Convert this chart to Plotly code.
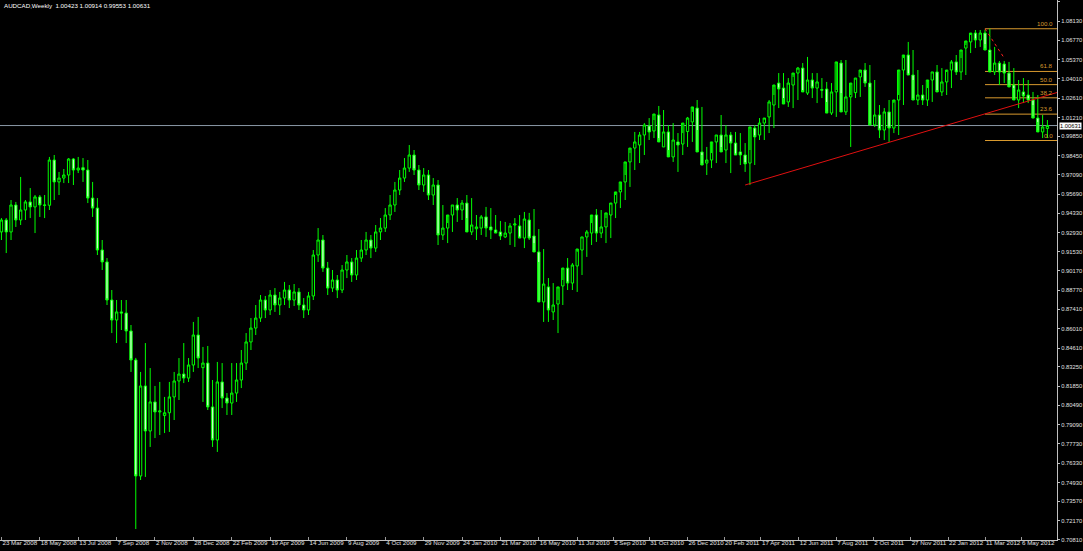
import plotly.graph_objects as go

# ---------------- data (AUDCAD weekly) ----------------
open_ = [0.9297,0.9383,0.9297,0.9491,0.9383,0.9455,0.9513,0.9477,0.9549,0.9491,
0.9489,0.9815,0.9657,0.9685,0.9707,0.9822,0.9743,0.9760,0.9743,0.9541,
0.9469,0.9167,0.9081,0.8807,0.8663,0.8721,0.8713,0.8584,0.8375,0.7540,
0.8188,0.7864,0.8073,0.8001,0.7975,0.7995,0.8109,0.8224,0.8274,0.8245,
0.8339,0.8555,0.8320,0.8353,0.8037,0.7799,0.8217,0.8101,0.8065,0.8137,
0.8231,0.8353,0.8505,0.8605,0.8677,0.8807,0.8735,0.8843,0.8771,0.8821,
0.8879,0.8807,0.8865,0.8771,0.8735,0.8836,0.9131,0.9239,0.9037,0.8893,
0.8951,0.8879,0.9023,0.9081,0.8987,0.9109,0.9167,0.9239,0.9181,0.9297,
0.9325,0.9419,0.9491,0.9599,0.9685,0.9757,0.9851,0.9743,0.9635,
0.9707,0.9563,0.9635,0.9275,0.9325,0.9419,0.9491,0.9455,0.9505,0.9297,0.9320,
0.9325,0.9405,0.9333,0.9311,0.9297,0.9261,0.9289,0.9347,0.9340,0.9253,
0.9383,0.9268,0.9153,0.8793,0.8901,0.8721,0.8778,0.8908,0.9037,0.8929,
0.9052,0.9167,0.9261,0.9289,0.9419,0.9289,0.9333,0.9419,0.9505,0.9585,
0.9657,0.9801,0.9901,0.9923,0.9995,1.0060,1.0024,1.0139,0.9909,1.0017,
0.9837,0.9945,0.9930,1.0020,1.0089,1.0189,0.9873,0.9793,0.9815,0.9945,
0.9995,0.9887,0.9995,0.9937,0.9873,0.9851,0.9793,1.0045,0.9995,1.0081,
1.0125,1.0211,1.0369,1.0333,1.0233,1.0355,1.0441,1.0477,1.0297,1.0391,
1.0333,1.0322,1.0326,1.0153,1.0305,1.0513,1.0161,1.0269,1.0300,1.0413,
1.0463,1.0369,1.0067,1.0139,1.0031,1.0161,1.0045,1.0247,1.0463,1.0571,
1.0427,1.0247,1.0283,1.0247,1.0391,1.0449,1.0305,1.0377,1.0463,1.0521,
1.0449,1.0621,1.0665,1.0729,1.0679,1.0729,1.0607,1.0449,1.0513,1.0506,
1.0441,1.0355,1.0247,1.0305,1.0283,1.0247,1.0117,1.0017,1.00423]

high = [0.9397,0.9397,0.9527,0.9513,0.9693,0.9527,0.9613,0.9563,0.9563,0.9563,
0.9837,0.9851,0.9729,0.9750,0.9829,0.9829,0.9837,0.9829,0.9815,0.9657,
0.9541,0.9239,0.9109,0.8879,0.8807,0.8807,0.8807,0.8627,0.8390,0.8289,
0.8497,0.8317,0.8188,0.8217,0.8109,0.8217,0.8289,0.8389,0.8497,0.8389,
0.8649,0.8685,0.8469,0.8476,0.8231,0.8361,0.8353,0.8137,0.8353,0.8353,
0.8447,0.8569,0.8677,0.8771,0.8843,0.8836,0.8879,0.8893,0.8865,0.8937,
0.8915,0.8922,0.8893,0.8821,0.8865,0.9167,0.9325,0.9275,0.9081,0.9023,
0.8987,0.9059,0.9131,0.9109,0.9167,0.9239,0.9297,0.9275,0.9347,0.9397,
0.9469,0.9563,0.9657,0.9743,0.9829,0.9923,0.9887,0.9779,0.9757,
0.9743,0.9685,0.9671,0.9491,0.9361,0.9491,0.9541,0.9527,0.9563,0.9541,0.9419,0.9419,
0.9477,0.9469,0.9419,0.9376,0.9369,0.9361,0.9397,0.9419,0.9441,0.9434,
0.9462,0.9318,0.9174,0.8965,0.8929,0.8807,0.8951,0.9109,0.9073,0.9153,
0.9261,0.9311,0.9361,0.9462,0.9455,0.9397,0.9498,0.9563,0.9599,0.9707,
0.9865,1.0017,1.0017,1.0081,1.0117,1.0103,1.0204,1.0175,1.0067,1.0081,
1.0009,1.0009,1.0125,1.0161,1.0247,1.0197,0.9909,0.9865,0.9995,1.0139,
1.0067,1.0017,1.0017,1.0009,0.9937,0.9887,1.0067,1.0117,1.0110,1.0247,
1.0283,1.0441,1.0441,1.0405,1.0413,1.0485,1.0513,1.0557,1.0441,1.0441,
1.0405,1.0377,1.0369,1.0319,1.0535,1.0535,1.0283,1.0405,1.0441,1.0513,
1.0499,1.0391,1.0211,1.0189,1.0247,1.0225,1.0283,1.0549,1.0665,1.0607,
1.0463,1.0355,1.0333,1.0449,1.0499,1.0477,1.0449,1.0535,1.0571,1.0549,
1.0643,1.0715,1.0751,1.0751,1.0755,1.0760,1.0629,1.0528,1.0528,1.0521,
1.0477,1.0391,1.0405,1.0391,1.0305,1.0283,1.0139,1.0103,1.00914]

low = [0.9239,0.9145,0.9239,0.9333,0.9347,0.9383,0.9397,0.9289,0.9405,0.9397,
0.9455,0.9527,0.9563,0.9649,0.9649,0.9635,0.9721,0.9657,0.9505,0.9405,
0.9131,0.9023,0.8771,0.8569,0.8497,0.8591,0.8497,0.8289,0.7158,0.7511,
0.7533,0.7749,0.7813,0.7835,0.7849,0.7857,0.7943,0.8087,0.8209,0.8217,
0.8289,0.8317,0.8073,0.8015,0.7749,0.7713,0.8029,0.7979,0.7979,0.8073,
0.8173,0.8303,0.8447,0.8555,0.8649,0.8677,0.8699,0.8721,0.8699,0.8771,
0.8749,0.8764,0.8735,0.8677,0.8699,0.8807,0.9081,0.9009,0.8843,0.8865,
0.8821,0.8857,0.8965,0.8937,0.8951,0.9081,0.9131,0.9109,0.9153,0.9239,
0.9297,0.9383,0.9441,0.9563,0.9657,0.9729,0.9707,0.9599,0.9585,
0.9527,0.9491,0.9203,0.9239,0.9217,0.9297,0.9369,0.9383,0.9397,0.9275,0.9239,0.9275,
0.9261,0.9246,0.9297,0.9239,0.9253,0.9203,0.9189,0.9261,0.9181,0.9239,
0.9217,0.9081,0.8649,0.8649,0.8663,0.8569,0.8771,0.8879,0.8879,0.8865,
0.8987,0.9117,0.9203,0.9225,0.9253,0.9217,0.9253,0.9397,0.9469,0.9527,
0.9621,0.9743,0.9793,0.9851,0.9959,0.9973,0.9973,0.9909,0.9887,0.9801,
0.9729,0.9851,0.9909,0.9945,1.0031,0.9851,0.9707,0.9757,0.9793,0.9909,
0.9793,0.9721,0.9851,0.9779,0.9729,0.9635,0.9779,0.9959,0.9959,1.0009,
1.0045,1.0189,1.0261,1.0197,1.0189,1.0247,1.0319,1.0283,1.0261,1.0225,
1.0261,1.0233,1.0139,1.0125,1.0297,1.0139,0.9909,1.0261,1.0269,1.0341,
1.0341,1.0053,0.9973,0.9959,0.9945,1.0009,0.9995,1.0211,1.0427,1.0391,
1.0211,1.0211,1.0204,1.0233,1.0319,1.0276,1.0283,1.0333,1.0427,1.0391,
1.0427,1.0585,1.0621,1.0629,1.0650,1.0593,1.0427,1.0355,1.0369,1.0391,
1.0333,1.0189,1.0225,1.0225,1.0211,1.0089,0.9973,0.9973,0.99553]

close = [0.9383,0.9297,0.9491,0.9383,0.9455,0.9513,0.9477,0.9549,0.9491,0.9489,
0.9815,0.9657,0.9685,0.9707,0.9822,0.9743,0.9757,0.9743,0.9541,0.9469,
0.9167,0.9081,0.8807,0.8663,0.8721,0.8713,0.8584,0.8375,0.7540,0.8188,
0.7864,0.8073,0.8001,0.8008,0.7995,0.8109,0.8224,0.8274,0.8245,0.8339,
0.8555,0.8389,0.8353,0.8037,0.7799,0.8217,0.8101,0.8065,0.8137,0.8231,
0.8353,0.8505,0.8605,0.8677,0.8807,0.8735,0.8843,0.8771,0.8821,0.8879,
0.8807,0.8865,0.8771,0.8735,0.8836,0.9131,0.9239,0.9037,0.8893,0.8951,
0.8879,0.9023,0.9081,0.8987,0.9109,0.9167,0.9239,0.9181,0.9297,0.9325,
0.9419,0.9491,0.9599,0.9685,0.9757,0.9851,0.9743,0.9635,0.9707,
0.9563,0.9635,0.9275,0.9325,0.9419,0.9491,0.9455,0.9505,0.9297,0.9347,0.9333,
0.9405,0.9325,0.9311,0.9289,0.9268,0.9289,0.9340,0.9354,0.9253,0.9390,
0.9253,0.9153,0.8793,0.8922,0.8735,0.8771,0.8901,0.9037,0.8929,0.9059,
0.9174,0.9261,0.9297,0.9419,0.9289,0.9333,0.9434,0.9505,0.9585,0.9657,
0.9801,0.9901,0.9945,0.9995,1.0067,1.0017,1.0146,0.9945,1.0017,0.9837,
0.9959,0.9923,1.0081,1.0117,1.0197,0.9873,0.9779,0.9815,0.9945,0.9995,
0.9873,0.9995,0.9937,0.9851,0.9851,0.9787,1.0053,0.9981,1.0081,1.0117,
1.0233,1.0355,1.0326,1.0218,1.0369,1.0441,1.0477,1.0305,1.0391,1.0333,
1.0377,1.0318,1.0153,1.0305,1.0521,1.0161,1.0269,1.0369,1.0405,1.0463,
1.0369,1.0067,1.0139,1.0031,1.0161,1.0045,1.0247,1.0463,1.0571,1.0427,
1.0247,1.0283,1.0247,1.0391,1.0449,1.0305,1.0377,1.0463,1.0521,1.0449,
1.0607,1.0672,1.0729,1.0679,1.0729,1.0607,1.0449,1.0513,1.0449,1.0441,
1.0341,1.0247,1.0319,1.0276,1.0247,1.0117,1.0017,1.0053,1.00631]

bars = list(range(len(close)))

date_labels = ["23 Mar 2008", "18 May 2008", "13 Jul 2008", "7 Sep 2008", "2 Nov 2008",
               "28 Dec 2008", "22 Feb 2009", "19 Apr 2009", "14 Jun 2009", "9 Aug 2009",
               "4 Oct 2009", "29 Nov 2009", "24 Jan 2010", "21 Mar 2010", "16 May 2010",
               "11 Jul 2010", "5 Sep 2010", "31 Oct 2010", "26 Dec 2010", "20 Feb 2011",
               "17 Apr 2011", "12 Jun 2011", "7 Aug 2011", "2 Oct 2011", "27 Nov 2011",
               "22 Jan 2012", "11 Mar 2012", "6 May 2012"]
# bar position of each date label on the time scale
date_label_bars = [0, 8, 16, 24, 32, 40, 48, 56, 64, 72, 80, 88, 96, 104, 112, 120,
                   127.5, 135, 143, 150.6, 158.3, 166.2, 174, 181.7, 189.5, 197.3, 205, 212.5]

price_ticks = [1.09530, 1.08130, 1.06770, 1.05370, 1.04010, 1.02610, 1.01210, 0.99850,
               0.98450, 0.97090, 0.95690, 0.94330, 0.92930, 0.91530, 0.90170, 0.88770,
               0.87410, 0.86010, 0.84610, 0.83250, 0.81850, 0.80490, 0.79090, 0.77730,
               0.76330, 0.74930, 0.73570, 0.72170, 0.70810]
price_tick_text = ["%.5f" % v for v in price_ticks]

title_text = "AUDCAD,Weekly  1.00423 1.00914 0.99553 1.00631"
bid_price = 1.00631

# Fibonacci retracement (from high bar to last low)
fib_start_bar = 205
fib_high = 1.0760
fib_low = 0.99553
fib_levels = [100.0, 61.8, 50.0, 38.2, 23.6, 0.0]

# trend line anchors (bar, price)
trend_start = (155, 0.9635)
trend_end = (220.0, 1.0301)
fib_diag_end = (209, 1.0549)

# ---------------- figure ----------------
X_MIN, X_MAX = -0.3, 220.0
Y_MIN, Y_MAX = 0.7079, 1.0967
FONT = "Liberation Sans"
FS = 6.2
YFS = 5.8
FIB_COLOR = "#d99a2e"

fig = go.Figure()
fig.add_trace(go.Candlestick(
    x=bars, open=open_, high=high, low=low, close=close,
    increasing=dict(line=dict(color="#00ff00", width=1), fillcolor="#000000"),
    decreasing=dict(line=dict(color="#00ff00", width=1), fillcolor="#c8ffc8"),
    whiskerwidth=0, hoverinfo="skip", showlegend=False,
))

shapes = []
# bid line
shapes.append(dict(type="line", xref="paper", x0=0, x1=1, yref="y", y0=bid_price, y1=bid_price,
                   line=dict(color="#8a97a6", width=1), layer="below"))
# fib levels
annotations = []
for lv in fib_levels:
    p = fib_low + (fib_high - fib_low) * lv / 100.0
    shapes.append(dict(type="line", xref="x", x0=fib_start_bar, x1=X_MAX, yref="y", y0=p, y1=p,
                       line=dict(color=FIB_COLOR, width=1), layer="below"))
    annotations.append(dict(xref="paper", x=0.998, yref="y", y=p, text="%.1f" % lv,
                            xanchor="right", yanchor="bottom", showarrow=False,
                            font=dict(family=FONT, size=FS, color=FIB_COLOR)))
# fib diagonal (dotted)
shapes.append(dict(type="line", xref="x", yref="y", x0=fib_start_bar, y0=fib_high,
                   x1=fib_diag_end[0], y1=fib_diag_end[1],
                   line=dict(color="#ff2020", width=1, dash="dot")))
# trend line
shapes.append(dict(type="line", xref="x", yref="y", x0=trend_start[0], y0=trend_start[1],
                   x1=trend_end[0], y1=trend_end[1], line=dict(color="#e01010", width=1)))

annotations.append(dict(xref="paper", yref="paper", x=0.002, y=1.0, xanchor="left", yanchor="top",
                        text=title_text, showarrow=False,
                        font=dict(family=FONT, size=FS, color="#ffffff")))
annotations.append(dict(xref="paper", yref="y", x=1.0, y=bid_price, xanchor="left", yanchor="middle",
                        text="%.5f" % bid_price, showarrow=False, bgcolor="#ffffff",
                        borderpad=0, xshift=2,
                        font=dict(family=FONT, size=YFS, color="#000000")))

fig.update_layout(
    width=1083, height=551,
    paper_bgcolor="#000000", plot_bgcolor="#000000",
    margin=dict(l=0, r=26, t=0, b=11),
    shapes=shapes, annotations=annotations,
    showlegend=False,
    xaxis=dict(range=[X_MIN, X_MAX], rangeslider=dict(visible=False), showgrid=False, zeroline=False,
               tickmode="array", tickvals=date_label_bars, ticktext=date_labels, tickangle=0,
               ticklabelposition="outside right", ticklabelstandoff=-3,
               ticks="inside", ticklen=3, tickcolor="#9a9a9a",
               showline=True, linecolor="#c0c0c0", linewidth=1, automargin=False,
               tickfont=dict(family=FONT, size=FS, color="#e0e0e0")),
    yaxis=dict(range=[Y_MIN, Y_MAX], side="right", showgrid=False, zeroline=False,
               tickmode="array", tickvals=price_ticks, ticktext=price_tick_text,
               ticks="outside", ticklen=2, tickcolor="#c0c0c0",
               showline=True, linecolor="#c0c0c0", linewidth=1, automargin=False,
               tickfont=dict(family=FONT, size=YFS, color="#e0e0e0")),
)

fig.write_html("out.html", config={"displayModeBar": False},
               post_script="document.body.style.margin='0';document.body.style.background='#000';")
